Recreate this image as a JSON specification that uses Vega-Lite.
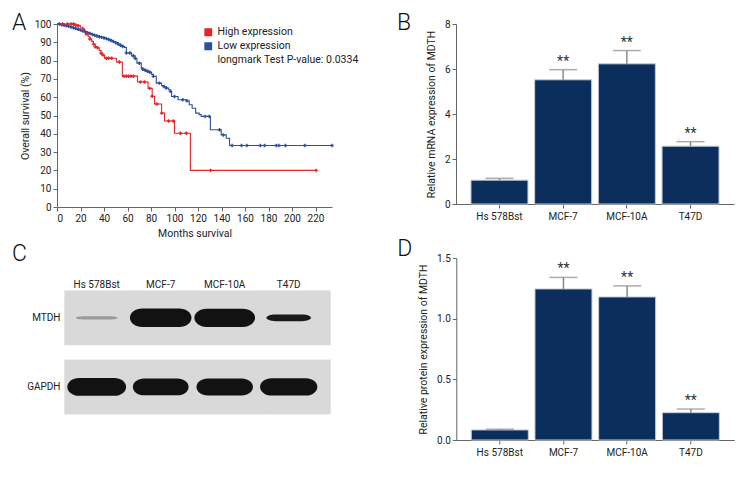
{
  "$schema": "https://vega.github.io/schema/vega-lite/v6.json",
  "background": "white",
  "padding": {"left": 12, "top": 12, "right": 5, "bottom": 0},
  "config": {
    "font": "Roboto, sans-serif",
    "view": {"stroke": null},
    "axis": {
      "labelFont": "Roboto, sans-serif", "titleFont": "Roboto, sans-serif",
      "labelFontSize": 10, "labelColor": "#222", "titleFontSize": 10.5, "titleFontWeight": "normal",
      "titleColor": "#222", "domainColor": "#666", "tickColor": "#666", "grid": false, "tickSize": 4, "labelPadding": 2,
      "labelOverlap": false
    },
    "title": {"fontSize": 23, "fontWeight": 300, "anchor": "start", "frame": "group", "color": "#111", "font": "Roboto, sans-serif"},
    "legend": {"labelFont": "Roboto, sans-serif"}
  },
  "datasets": {
    "km": [
      {"g": "Low expression", "t": 0, "s": 100, "c": 0},
      {"g": "Low expression", "t": 2, "s": 100, "c": 1},
      {"g": "Low expression", "t": 4, "s": 99.6, "c": 1},
      {"g": "Low expression", "t": 6, "s": 99.3, "c": 1},
      {"g": "Low expression", "t": 8, "s": 99, "c": 1},
      {"g": "Low expression", "t": 10, "s": 98.7, "c": 1},
      {"g": "Low expression", "t": 12, "s": 98.3, "c": 1},
      {"g": "Low expression", "t": 14, "s": 97.9, "c": 1},
      {"g": "Low expression", "t": 16, "s": 97.5, "c": 1},
      {"g": "Low expression", "t": 18, "s": 97.1, "c": 1},
      {"g": "Low expression", "t": 20, "s": 96.7, "c": 1},
      {"g": "Low expression", "t": 22, "s": 96.2, "c": 1},
      {"g": "Low expression", "t": 24, "s": 95.7, "c": 1},
      {"g": "Low expression", "t": 26, "s": 95.2, "c": 1},
      {"g": "Low expression", "t": 28, "s": 94.8, "c": 1},
      {"g": "Low expression", "t": 30, "s": 94.3, "c": 1},
      {"g": "Low expression", "t": 32, "s": 93.8, "c": 1},
      {"g": "Low expression", "t": 34, "s": 93.4, "c": 1},
      {"g": "Low expression", "t": 36, "s": 93, "c": 1},
      {"g": "Low expression", "t": 38, "s": 92.7, "c": 1},
      {"g": "Low expression", "t": 40, "s": 92.4, "c": 1},
      {"g": "Low expression", "t": 42, "s": 92, "c": 1},
      {"g": "Low expression", "t": 44, "s": 91.5, "c": 1},
      {"g": "Low expression", "t": 46, "s": 91, "c": 1},
      {"g": "Low expression", "t": 48, "s": 90.4, "c": 1},
      {"g": "Low expression", "t": 50, "s": 89.8, "c": 1},
      {"g": "Low expression", "t": 52, "s": 89.1, "c": 1},
      {"g": "Low expression", "t": 54, "s": 88.4, "c": 1},
      {"g": "Low expression", "t": 56, "s": 87.7, "c": 1},
      {"g": "Low expression", "t": 57.5, "s": 87.2, "c": 0},
      {"g": "Low expression", "t": 59, "s": 84.2, "c": 1},
      {"g": "Low expression", "t": 62, "s": 84.2, "c": 1},
      {"g": "Low expression", "t": 63.5, "s": 82.6, "c": 0},
      {"g": "Low expression", "t": 65, "s": 82.6, "c": 1},
      {"g": "Low expression", "t": 66.5, "s": 81.2, "c": 1},
      {"g": "Low expression", "t": 68, "s": 78.6, "c": 0},
      {"g": "Low expression", "t": 70, "s": 78.6, "c": 1},
      {"g": "Low expression", "t": 71.7, "s": 76, "c": 0},
      {"g": "Low expression", "t": 73, "s": 75.3, "c": 1},
      {"g": "Low expression", "t": 75, "s": 74.7, "c": 1},
      {"g": "Low expression", "t": 77, "s": 74.2, "c": 1},
      {"g": "Low expression", "t": 79, "s": 73.6, "c": 1},
      {"g": "Low expression", "t": 80.5, "s": 72.5, "c": 0},
      {"g": "Low expression", "t": 82, "s": 71.4, "c": 1},
      {"g": "Low expression", "t": 84.5, "s": 67.7, "c": 0},
      {"g": "Low expression", "t": 87, "s": 67.7, "c": 1},
      {"g": "Low expression", "t": 89, "s": 66.4, "c": 0},
      {"g": "Low expression", "t": 91, "s": 65.8, "c": 1},
      {"g": "Low expression", "t": 93, "s": 65, "c": 1},
      {"g": "Low expression", "t": 95, "s": 64.1, "c": 0},
      {"g": "Low expression", "t": 96.5, "s": 63.2, "c": 1},
      {"g": "Low expression", "t": 97.5, "s": 60.4, "c": 0},
      {"g": "Low expression", "t": 100, "s": 60.4, "c": 1},
      {"g": "Low expression", "t": 103, "s": 58.6, "c": 0},
      {"g": "Low expression", "t": 107, "s": 58.6, "c": 1},
      {"g": "Low expression", "t": 110.5, "s": 58, "c": 1},
      {"g": "Low expression", "t": 112.5, "s": 55.9, "c": 0},
      {"g": "Low expression", "t": 115, "s": 54, "c": 0},
      {"g": "Low expression", "t": 118, "s": 51.3, "c": 0},
      {"g": "Low expression", "t": 121, "s": 50.5, "c": 0},
      {"g": "Low expression", "t": 122.7, "s": 49.5, "c": 0},
      {"g": "Low expression", "t": 126, "s": 49.5, "c": 1},
      {"g": "Low expression", "t": 129.5, "s": 49.5, "c": 1},
      {"g": "Low expression", "t": 130.5, "s": 42.2, "c": 0},
      {"g": "Low expression", "t": 138.3, "s": 42.2, "c": 1},
      {"g": "Low expression", "t": 139.7, "s": 39.4, "c": 0},
      {"g": "Low expression", "t": 141.5, "s": 39.4, "c": 1},
      {"g": "Low expression", "t": 144, "s": 37.6, "c": 0},
      {"g": "Low expression", "t": 146.8, "s": 33.6, "c": 0},
      {"g": "Low expression", "t": 149, "s": 33.6, "c": 1},
      {"g": "Low expression", "t": 157, "s": 33.6, "c": 1},
      {"g": "Low expression", "t": 161.6, "s": 33.6, "c": 1},
      {"g": "Low expression", "t": 173, "s": 33.6, "c": 1},
      {"g": "Low expression", "t": 176.6, "s": 33.6, "c": 1},
      {"g": "Low expression", "t": 186.5, "s": 33.6, "c": 1},
      {"g": "Low expression", "t": 188.8, "s": 33.6, "c": 1},
      {"g": "Low expression", "t": 194.4, "s": 33.6, "c": 1},
      {"g": "Low expression", "t": 210.9, "s": 33.6, "c": 1},
      {"g": "Low expression", "t": 234, "s": 33.6, "c": 1},
      {"g": "High expression", "t": 0, "s": 100, "c": 0},
      {"g": "High expression", "t": 5, "s": 100, "c": 1},
      {"g": "High expression", "t": 9, "s": 100, "c": 1},
      {"g": "High expression", "t": 12, "s": 100, "c": 1},
      {"g": "High expression", "t": 14, "s": 100, "c": 1},
      {"g": "High expression", "t": 16, "s": 99.3, "c": 1},
      {"g": "High expression", "t": 18, "s": 99, "c": 1},
      {"g": "High expression", "t": 20, "s": 98.2, "c": 0},
      {"g": "High expression", "t": 22, "s": 97.2, "c": 1},
      {"g": "High expression", "t": 23.5, "s": 95.8, "c": 0},
      {"g": "High expression", "t": 25, "s": 94.5, "c": 1},
      {"g": "High expression", "t": 26.5, "s": 93, "c": 0},
      {"g": "High expression", "t": 28, "s": 91.8, "c": 1},
      {"g": "High expression", "t": 29.5, "s": 90.5, "c": 0},
      {"g": "High expression", "t": 31, "s": 89, "c": 1},
      {"g": "High expression", "t": 32.5, "s": 87.5, "c": 1},
      {"g": "High expression", "t": 34.5, "s": 87, "c": 1},
      {"g": "High expression", "t": 36, "s": 85.5, "c": 0},
      {"g": "High expression", "t": 37.5, "s": 84, "c": 1},
      {"g": "High expression", "t": 39, "s": 83, "c": 1},
      {"g": "High expression", "t": 40.5, "s": 81.3, "c": 0},
      {"g": "High expression", "t": 42, "s": 81.3, "c": 1},
      {"g": "High expression", "t": 44, "s": 81.3, "c": 1},
      {"g": "High expression", "t": 46.5, "s": 81.3, "c": 1},
      {"g": "High expression", "t": 50.5, "s": 79.2, "c": 0},
      {"g": "High expression", "t": 53, "s": 79.2, "c": 1},
      {"g": "High expression", "t": 55.6, "s": 71.5, "c": 0},
      {"g": "High expression", "t": 57, "s": 71.5, "c": 1},
      {"g": "High expression", "t": 59, "s": 71.5, "c": 1},
      {"g": "High expression", "t": 61, "s": 71.5, "c": 1},
      {"g": "High expression", "t": 63, "s": 71.5, "c": 1},
      {"g": "High expression", "t": 65, "s": 71.5, "c": 1},
      {"g": "High expression", "t": 68.5, "s": 68.3, "c": 0},
      {"g": "High expression", "t": 71, "s": 68.3, "c": 1},
      {"g": "High expression", "t": 74.5, "s": 68.3, "c": 1},
      {"g": "High expression", "t": 77.5, "s": 64.8, "c": 0},
      {"g": "High expression", "t": 79, "s": 64.8, "c": 1},
      {"g": "High expression", "t": 81, "s": 60.5, "c": 1},
      {"g": "High expression", "t": 83, "s": 56.3, "c": 0},
      {"g": "High expression", "t": 85, "s": 56.3, "c": 1},
      {"g": "High expression", "t": 89, "s": 51.3, "c": 1},
      {"g": "High expression", "t": 91.5, "s": 47, "c": 0},
      {"g": "High expression", "t": 95, "s": 47, "c": 1},
      {"g": "High expression", "t": 99, "s": 47, "c": 1},
      {"g": "High expression", "t": 100, "s": 40.3, "c": 0},
      {"g": "High expression", "t": 105, "s": 40.3, "c": 1},
      {"g": "High expression", "t": 110, "s": 40.3, "c": 1},
      {"g": "High expression", "t": 113.5, "s": 20, "c": 0},
      {"g": "High expression", "t": 130.7, "s": 20, "c": 1},
      {"g": "High expression", "t": 220.5, "s": 20, "c": 1}
    ],
    "mrna": [
      {"cell": "Hs 578Bst", "mean": 1.06, "upper": 1.14, "sig": ""},
      {"cell": "MCF-7", "mean": 5.52, "upper": 5.97, "sig": "**"},
      {"cell": "MCF-10A", "mean": 6.23, "upper": 6.82, "sig": "**"},
      {"cell": "T47D", "mean": 2.57, "upper": 2.77, "sig": "**"}
    ],
    "protein": [
      {"cell": "Hs 578Bst", "mean": 0.083, "upper": 0.089, "sig": ""},
      {"cell": "MCF-7", "mean": 1.245, "upper": 1.34, "sig": "**"},
      {"cell": "MCF-10A", "mean": 1.179, "upper": 1.27, "sig": "**"},
      {"cell": "T47D", "mean": 0.225, "upper": 0.255, "sig": "**"}
    ],
    "blot": [
      {"protein": "MTDH", "lane": "Hs 578Bst", "density": 0.08, "level": "trace"},
      {"protein": "MTDH", "lane": "MCF-7", "density": 1.24, "level": "high"},
      {"protein": "MTDH", "lane": "MCF-10A", "density": 1.18, "level": "high"},
      {"protein": "MTDH", "lane": "T47D", "density": 0.22, "level": "low"},
      {"protein": "GAPDH", "lane": "Hs 578Bst", "density": 1.05, "level": "high"},
      {"protein": "GAPDH", "lane": "MCF-7", "density": 0.85, "level": "high"},
      {"protein": "GAPDH", "lane": "MCF-10A", "density": 0.9, "level": "high"},
      {"protein": "GAPDH", "lane": "T47D", "density": 0.95, "level": "high"}
    ]
  },
  "concat": [
    {
      "bounds": "flush",
      "spacing": 124,
      "hconcat": [
        {
          "title": {"text": "A", "dx": -45, "offset": -16},
          "width": 275,
          "height": 183,
          "data": {"name": "km"},
          "layer": [
            {
              "mark": {"type": "line", "interpolate": "step-after", "strokeWidth": 1.1},
              "encoding": {
                "x": {"field": "t", "type": "quantitative", "scale": {"domain": [0, 234], "nice": false},
                  "axis": {"values": [0, 20, 40, 60, 80, 100, 120, 140, 160, 180, 200, 220], "labelOverlap": false, "title": "Months survival", "titlePadding": 5}},
                "y": {"field": "s", "type": "quantitative", "scale": {"domain": [0, 100], "nice": false},
                  "axis": {"values": [0, 10, 20, 30, 40, 50, 60, 70, 80, 90, 100], "labelOverlap": false, "title": "Overall survival (%)", "titlePadding": 4}},
                "color": {"field": "g", "type": "nominal",
                  "scale": {"domain": ["High expression", "Low expression", "longmark Test P-value: 0.0334"], "range": ["#e0262b", "#2b4f9e", "rgba(0,0,0,0)"]},
                  "legend": {"orient": "none", "legendX": 146, "legendY": 3, "title": null, "symbolType": "square", "symbolSize": 40,
                    "labelFontSize": 10.5, "labelColor": "#222", "rowPadding": 1, "labelOffset": 4,
                    "encode": {"symbols": {"update": {"fill": {"scale": "color", "field": "value"}, "stroke": {"value": "transparent"}, "opacity": {"value": 1}}}}}},
                "order": {"field": "t"}
              }
            },
            {
              "transform": [{"filter": "datum.c == 1"}],
              "mark": {"type": "point", "shape": "cross", "filled": true, "size": 12, "opacity": 1},
              "encoding": {
                "x": {"field": "t", "type": "quantitative", "axis": {"values": [0, 20, 40, 60, 80, 100, 120, 140, 160, 180, 200, 220], "labelOverlap": false, "title": "Months survival", "titlePadding": 5}},
                "y": {"field": "s", "type": "quantitative", "axis": {"values": [0, 10, 20, 30, 40, 50, 60, 70, 80, 90, 100], "labelOverlap": false, "title": "Overall survival (%)", "titlePadding": 4}},
                "color": {"field": "g", "type": "nominal"}
              }
            }
          ]
        },
        {
          "title": {"text": "B", "dx": -59, "offset": -16},
          "width": 278,
          "height": 180,
          "data": {"name": "mrna"},
          "encoding": {
            "x": {"field": "cell", "type": "nominal", "sort": null, "scale": {"paddingInner": 0.105, "paddingOuter": 0.235},
              "axis": {"title": null, "labelAngle": 0, "labelPadding": 3}}
          },
          "layer": [
            {"mark": {"type": "bar", "color": "#0b2e5c", "stroke": "#c5ccd6", "strokeWidth": 1},
              "encoding": {"y": {"field": "mean", "type": "quantitative", "scale": {"domain": [0, 8], "nice": false},
                "axis": {"values": [0, 2, 4, 6, 8], "title": "Relative mRNA expression of MDTH", "titlePadding": 8}}}},
            {"mark": {"type": "rule", "color": "#8a8a8a", "strokeWidth": 1.5},
              "encoding": {"y": {"field": "mean", "type": "quantitative"}, "y2": {"field": "upper"}}},
            {"mark": {"type": "tick", "color": "#8a8a8a", "thickness": 1.5, "size": 28},
              "encoding": {"y": {"field": "upper", "type": "quantitative"}}},
            {"mark": {"type": "text", "fontSize": 14, "fill": "#333", "dy": -4, "baseline": "alphabetic"},
              "encoding": {"y": {"field": "upper", "type": "quantitative"}, "text": {"field": "sig"}}}
          ]
        }
      ]
    },
    {
      "bounds": "flush",
      "spacing": 125.3,
      "hconcat": [
        {
          "title": {"text": "C", "dx": -45, "offset": -8},
          "width": 273.4,
          "height": 156,
          "data": {"name": "blot"},
          "encoding": {
            "y": {"field": "protein", "type": "nominal", "sort": ["MTDH", "GAPDH"],
              "scale": {"type": "band", "paddingInner": 0.217, "paddingOuter": 0.237, "align": 1},
              "axis": {"title": null, "domain": false, "ticks": false, "labelPadding": -3}}
          },
          "layer": [
            {"mark": {"type": "rect", "color": "#d9d9d9", "stroke": "#d9d9d9", "strokeWidth": 0.6},
              "encoding": {
                "x": {"field": "lane", "type": "nominal", "sort": null,
                  "scale": {"type": "band", "paddingInner": 0, "paddingOuter": 0.058, "align": 1}, "axis": null}
              }},
            {"mark": {"type": "point", "filled": true, "strokeWidth": 0, "opacity": 1},
              "encoding": {
                "x": {"field": "lane", "type": "nominal", "sort": null,
                  "scale": {"type": "band", "paddingInner": 0, "paddingOuter": 0.136, "align": 0.4425},
                  "axis": {"orient": "top", "title": null, "domain": false, "ticks": false, "labelAngle": 0, "labelPadding": -31}},
                "shape": {"field": "level", "type": "nominal", "legend": null,
                  "scale": {"domain": ["high", "low", "trace"], "range": [
                    "M-0.6,-0.3L0.6,-0.3A0.4,0.3,0,0,1,0.6,0.3L-0.6,0.3A0.4,0.3,0,0,1,-0.6,-0.3Z",
                    "M-0.6,-0.15L0.6,-0.15A0.4,0.15,0,0,1,0.6,0.15L-0.6,0.15A0.4,0.15,0,0,1,-0.6,-0.15Z",
                    "M-0.6,-0.08L0.6,-0.08A0.4,0.08,0,0,1,0.6,0.08L-0.6,0.08A0.4,0.08,0,0,1,-0.6,-0.08Z"]}},
                "size": {"field": "density", "type": "quantitative", "legend": null, "scale": {"domain": [0, 1.3], "range": [1600, 3900]}},
                "fill": {"field": "level", "type": "nominal", "legend": null, "scale": {"domain": ["high", "low", "trace"], "range": ["#121212", "#1a1a1a", "#9a9a9a"]}}
              }}
          ],
          "resolve": {"scale": {"x": "independent"}, "axis": {"x": "independent"}}
        },
        {
          "title": {"text": "D", "dx": -59, "offset": -8},
          "width": 278,
          "height": 182,
          "data": {"name": "protein"},
          "encoding": {
            "x": {"field": "cell", "type": "nominal", "sort": null, "scale": {"paddingInner": 0.105, "paddingOuter": 0.235},
              "axis": {"title": null, "labelAngle": 0, "labelPadding": 3}}
          },
          "layer": [
            {"mark": {"type": "bar", "color": "#0b2e5c", "stroke": "#c5ccd6", "strokeWidth": 1},
              "encoding": {"y": {"field": "mean", "type": "quantitative", "scale": {"domain": [0, 1.5], "nice": false},
                "axis": {"values": [0, 0.5, 1, 1.5], "format": ".1f", "title": "Relative protein expression of MDTH", "titlePadding": 8}}}},
            {"mark": {"type": "rule", "color": "#8a8a8a", "strokeWidth": 1.5},
              "encoding": {"y": {"field": "mean", "type": "quantitative"}, "y2": {"field": "upper"}}},
            {"mark": {"type": "tick", "color": "#8a8a8a", "thickness": 1.5, "size": 28},
              "encoding": {"y": {"field": "upper", "type": "quantitative"}}},
            {"mark": {"type": "text", "fontSize": 14, "fill": "#333", "dy": -4, "baseline": "alphabetic"},
              "encoding": {"y": {"field": "upper", "type": "quantitative"}, "text": {"field": "sig"}}}
          ]
        }
      ]
    }
  ],
  "columns": 1,
  "align": "none",
  "spacing": -1
}
